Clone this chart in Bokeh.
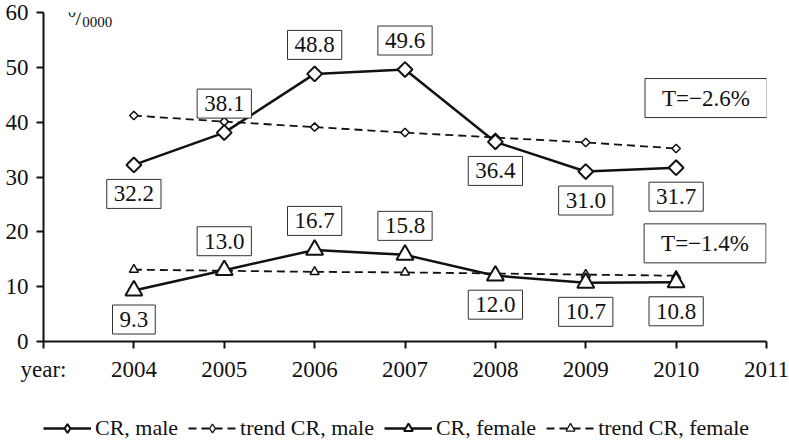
import numpy as np
from bokeh.plotting import figure
from bokeh.layouts import column
from bokeh.models import Range1d, FixedTicker, Legend, LegendItem, Label, ColumnDataSource
from bokeh.core.properties import value
from bokeh.embed import file_html
from bokeh.resources import INLINE

# ---- data ----
years = [2004, 2005, 2006, 2007, 2008, 2009, 2010]
cr_male = [32.2, 38.1, 48.8, 49.6, 36.4, 31.0, 31.7]
trend_male = [41.2, 40.1, 39.1, 38.1, 37.2, 36.3, 35.2]
cr_female = [9.3, 13.0, 16.7, 15.8, 12.0, 10.7, 10.8]
trend_female = [13.1, 12.9, 12.7, 12.6, 12.4, 12.2, 12.0]
male_label_side = ["below", "above", "above", "above", "below", "below", "below"]
female_label_side = ["below", "above", "above", "above", "below", "below", "below"]
x_ticks = [2003, 2004, 2005, 2006, 2007, 2008, 2009, 2010, 2011]
x_tick_labels = ["year:", "2004", "2005", "2006", "2007", "2008", "2009", "2010", "2011"]
y_ticks = [0, 10, 20, 30, 40, 50, 60]
trend_notes = ["T=\u22122.6%", "T=\u22121.4%"]
legend_labels = ["CR, male", "trend CR, male", "CR, female", "trend CR, female"]

FONT = "Liberation Serif"
INK = "#111111"

p = figure(width=789, height=395, output_backend="svg", toolbar_location=None,
           x_range=Range1d(2003, 2011), y_range=Range1d(0, 60),
           min_border_left=43, min_border_right=23, min_border_top=12, min_border_bottom=54)
p.outline_line_color = None
p.xgrid.visible = False
p.ygrid.visible = False

for ax in (p.xaxis[0], p.yaxis[0]):
    ax.axis_line_color = INK
    ax.axis_line_width = 2
    ax.major_tick_line_color = INK
    ax.major_tick_line_width = 2
    ax.minor_tick_line_color = None
    ax.major_tick_in = 0
    ax.major_tick_out = 7
    ax.major_label_text_font = FONT
    ax.major_label_text_font_size = "23px"
    ax.major_label_text_color = INK

p.xaxis.ticker = FixedTicker(ticks=x_ticks)
p.xaxis.major_label_overrides = {t: l for t, l in zip(x_ticks, x_tick_labels)}
p.xaxis.major_label_standoff = 8
p.yaxis.ticker = FixedTicker(ticks=y_ticks)
p.yaxis.major_label_standoff = 8

# ---- series ----
TM = dict(line_color=INK, line_width=1.8, line_dash="8 5")
CR = dict(line_color=INK, line_width=2.5)
p.line(years, trend_male, **TM)
p.scatter(years, trend_male, marker="square", angle=np.pi / 4, size=6,
          fill_color="white", line_color=INK, line_width=1.5)
p.line(years, trend_female, **TM)
p.scatter(years, trend_female, marker="triangle", size=9,
          fill_color="white", line_color=INK, line_width=1.5)
p.line(years, cr_male, **CR)
p.scatter(years, cr_male, marker="square", angle=np.pi / 4, size=10.5,
          fill_color="white", line_color=INK, line_width=2)
p.line(years, cr_female, **CR)
p.scatter(years, cr_female, marker="triangle", size=17,
          fill_color="white", line_color=INK, line_width=2)

# ---- value boxes ----
def offsets(sides):
    return [-29 if s == "above" else 29 for s in sides]

lab_src = ColumnDataSource(dict(
    x=years + years,
    y=cr_male + cr_female,
    txt=["%.1f" % v for v in cr_male + cr_female],
    yo=offsets(male_label_side) + offsets(female_label_side),
))
p.text(x="x", y="y", text="txt", y_offset="yo", source=lab_src,
       text_font=value(FONT), text_font_size="23px", text_color=INK,
       text_align="center", text_baseline="middle",
       background_fill_color="white", border_line_color="#333333", border_line_width=1,
       padding=dict(left=7, right=7, top=7, bottom=7))

# ---- trend notes ----
note_pos = [(2010.33, 44.4), (2010.32, 17.9)]
for (nx, ny), txt in zip(note_pos, trend_notes):
    p.add_layout(Label(x=nx, y=ny, text=txt, text_font=FONT, text_font_size="23px",
                       text_color=INK, text_align="center", text_baseline="middle",
                       background_fill_color="white", border_line_color="#333333",
                       border_line_width=1,
                       padding=dict(left=17, right=17, top=7, bottom=7)))

# ---- unit label 0/0000 ----
p.add_layout(Label(x=2003.27, y=60.2, text="0", text_font=FONT, text_font_size="16px",
                   text_color=INK, text_align="left", text_baseline="alphabetic"))
p.add_layout(Label(x=2003.355, y=59.0, text="/", text_font=FONT, text_font_size="22px",
                   text_color=INK, text_align="left", text_baseline="alphabetic"))
p.add_layout(Label(x=2003.43, y=58.3, text="0000", text_font=FONT, text_font_size="15px",
                   text_color=INK, text_align="left", text_baseline="alphabetic"))

# ---- legend (separate strip; series drawn out of view, only their legend glyphs show) ----
q = figure(width=789, height=46, output_backend="svg", toolbar_location=None,
           x_range=Range1d(0, 1), y_range=Range1d(0, 1),
           x_axis_type=None, y_axis_type=None,
           min_border_left=0, min_border_right=0, min_border_top=0, min_border_bottom=0)
q.outline_line_color = None
q.xgrid.visible = False
q.ygrid.visible = False

lm = [q.line(years, cr_male, **CR),
      q.scatter(years, cr_male, marker="diamond", size=15, fill_color="white",
                line_color=INK, line_width=2)]
ltm = [q.line(years, trend_male, **TM),
       q.scatter(years, trend_male, marker="diamond", size=9, fill_color="white",
                 line_color=INK, line_width=1.3)]
lf = [q.line(years, cr_female, **CR),
      q.scatter(years, cr_female, marker="triangle", size=15, fill_color="white",
                line_color=INK, line_width=2)]
ltf = [q.line(years, trend_female, **TM),
       q.scatter(years, trend_female, marker="triangle", size=9, fill_color="white",
                 line_color=INK, line_width=1.3)]

legend = Legend(items=[
    LegendItem(label=legend_labels[0], renderers=lm),
    LegendItem(label=legend_labels[1], renderers=ltm),
    LegendItem(label=legend_labels[2], renderers=lf),
    LegendItem(label=legend_labels[3], renderers=ltf),
], orientation="horizontal", location=(0, 0))
legend.border_line_alpha = 0
legend.background_fill_alpha = 0
legend.label_text_font = FONT
legend.label_text_font_size = "22px"
legend.label_text_color = INK
legend.glyph_width = 48
legend.glyph_height = 22
legend.label_standoff = 4
legend.spacing = 10
legend.padding = 0
legend.margin = 0
q.add_layout(legend)

open("out.html", "w").write(file_html(column(p, q, spacing=0), INLINE))
